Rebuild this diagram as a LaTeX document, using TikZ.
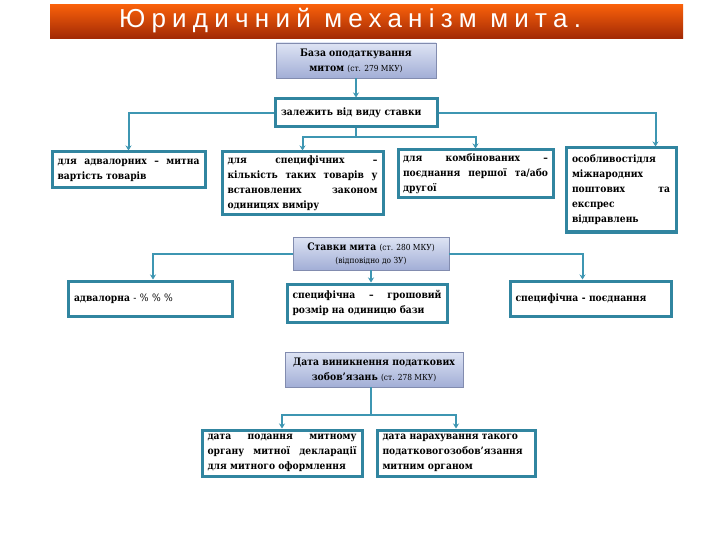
\documentclass[tikz,border=0pt]{standalone}
\usepackage{fontspec}
\setmainfont{Liberation Serif}
\newfontfamily\bxserif[FakeStretch=0.9]{DejaVu Serif}
\newfontfamily\titlefont[LetterSpace=24]{Liberation Sans}
\usetikzlibrary{arrows.meta}
\definecolor{teal1}{RGB}{49,133,160}
\definecolor{teal2}{RGB}{62,150,178}
\definecolor{gtop}{RGB}{222,228,244}
\definecolor{gbot}{RGB}{162,174,214}
\definecolor{gbord}{RGB}{130,140,175}
\definecolor{otop}{RGB}{248,96,10}
\definecolor{obot}{RGB}{160,40,5}
\newcommand{\bxfont}{\bxserif\fontsize{10.2}{15}\selectfont\bfseries}
\newcommand{\sm}[1]{{\mdseries\fontsize{8.3}{12}\selectfont #1}}
\begin{document}
\begin{tikzpicture}[x=1pt,y=-1pt,
  tbox/.style={draw=teal1, line width=3pt, fill=white, inner sep=0pt, align=justify, font=\bxfont},
  gbox/.style={draw=gbord, line width=0.8pt, top color=gtop, bottom color=gbot, inner sep=0pt, align=center, font=\bxserif\fontsize{10.3}{15}\selectfont\bfseries},
  conn/.style={draw=teal2, line width=2pt, -{Stealth[length=5pt,width=6pt]}},
  plain/.style={draw=teal2, line width=2pt}]
\useasboundingbox (0,0) rectangle (720,540);
\fill[white] (0,0) rectangle (720,540);
% title
\node[top color=otop, bottom color=obot, minimum width=633pt, minimum height=34pt, inner sep=0pt] (title) at (366.5,22) {};
\node[text=white, inner sep=0pt, font=\titlefont\fontsize{26}{28}\selectfont] (titletext) at (350,21) {Юридичний механізм мита.};
% level 1
\node[gbox, minimum width=160pt, minimum height=35pt] (b1) at (356,60.5) {База оподаткування\\митом \sm{(ст. 279 МКУ)}};
\node[tbox, minimum width=162pt, minimum height=28pt, text width=150pt, align=left] (b2) at (356,113) {залежить від виду ставки};
\node[tbox, minimum width=153pt, minimum height=36pt, text width=142pt] (A) at (128.5,170) {для адвалорних – митна\linebreak вартість товарів};
\node[tbox, minimum width=161pt, minimum height=63pt, text width=150pt] (B) at (302.5,183.5) {для специфічних –\linebreak кількість таких товарів у\linebreak встановлених законом\linebreak одиницях виміру};
\node[tbox, minimum width=155pt, minimum height=48pt, text width=145pt] (C) at (475.5,174) {для комбінованих –\linebreak поєднання першої та/або\linebreak другої};
\node[tbox, minimum width=110pt, minimum height=84pt, text width=98pt] (D) at (621,190) {особливостідля\\ міжнародних\\ поштових та\linebreak експрес\\ відправлень};
% level 2
\node[gbox, minimum width=156pt, minimum height=33pt] (E) at (371,253.5) {Ставки мита \sm{(ст. 280 МКУ)}\\[-2pt]\sm{(відповідно до ЗУ)}};
\node[tbox, minimum width=164pt, minimum height=35pt, text width=152pt, align=left] (F) at (150,298.5) {адвалорна \mdseries - \% \% \%};
\node[tbox, minimum width=160pt, minimum height=38pt, text width=149pt] (G) at (367,303) {специфічна – грошовий\linebreak розмір на одиницю бази};
\node[tbox, minimum width=161pt, minimum height=35pt, text width=150pt, align=left] (H) at (590.5,298.5) {специфічна - поєднання};
% level 3
\node[gbox, minimum width=178pt, minimum height=35pt] (I) at (374,369.5) {Дата виникнення податкових\\зобов’язань \sm{(ст. 278 МКУ)}};
\node[tbox, minimum width=160pt, minimum height=46pt, text width=149pt] (J) at (282,453) {дата подання митному\linebreak органу митної декларації\linebreak для митного оформлення};
\node[tbox, minimum width=158pt, minimum height=46pt, text width=147pt, align=left] (K) at (456,453) {дата нарахування такого\\ податковогозобов’язання\\ митним органом};
% connectors
\draw[conn] (b1.south) -- (b2.north);
\draw[conn] (b2.west) -| (A.north);
\draw[conn] (b2.east) -| ([xshift=-22pt]D.north east);
\draw[plain] (b2.south) -- ++(0,9) coordinate (j1);
\draw[conn] (j1) -| (B.north);
\draw[conn] (j1) -| (C.north);
\draw[conn] (E.west) -| ([xshift=3pt]F.north);
\draw[conn] (E.east) -| ([xshift=-8pt]H.north);
\draw[conn] (E.south) -- (E.south |- G.north);
\draw[plain] ([xshift=-3pt]I.south) -- ++(0,28) coordinate (j2);
\draw[conn] (j2) -| (J.north);
\draw[conn] (j2) -| (K.north);
\end{tikzpicture}
\end{document}
